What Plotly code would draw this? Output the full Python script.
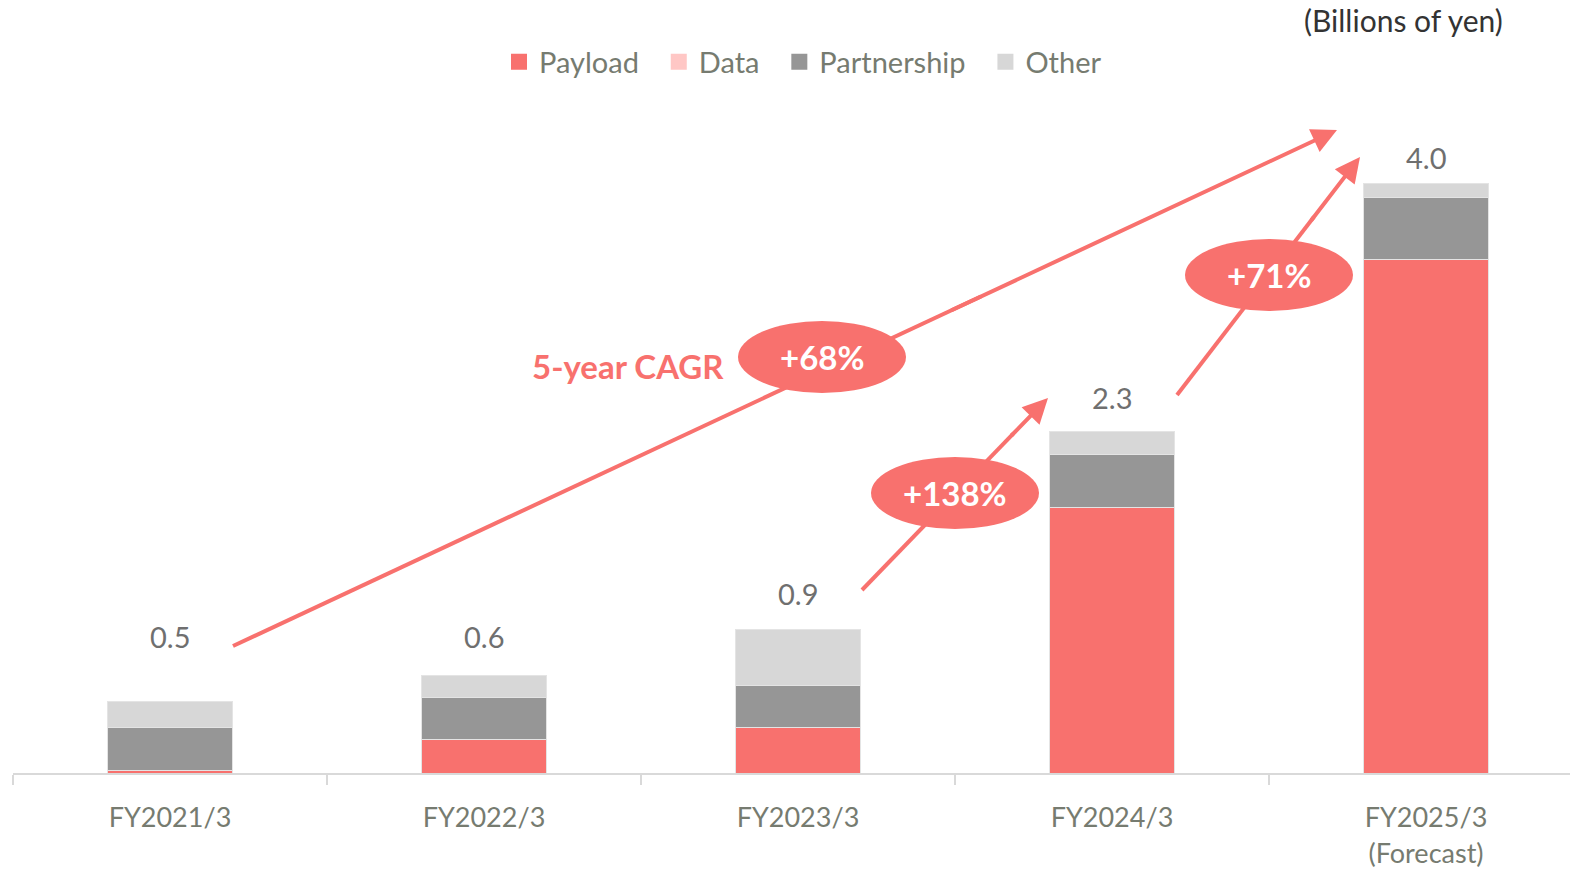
import plotly.graph_objects as go

categories = ["FY2021/3", "FY2022/3", "FY2023/3", "FY2024/3", "FY2025/3"]
tick_text = ["FY2021/3", "FY2022/3", "FY2023/3", "FY2024/3", "FY2025/3<br>(Forecast)"]
series_names = ["Payload", "Data", "Partnership", "Other"]
payload = [0.02, 0.23, 0.31, 1.82, 3.52]
data_rev = [0.0, 0.0, 0.0, 0.0, 0.0]
partnership = [0.29, 0.29, 0.29, 0.36, 0.42]
other = [0.18, 0.15, 0.38, 0.16, 0.10]
total_labels = ["0.5", "0.6", "0.9", "2.3", "4.0"]
growth_labels = ["+68%", "+138%", "+71%"]

# layout helpers (page pixel -> data) for decorations
Y0_PX, PX_PER_UNIT = 773, 146.0
X0_PX, PX_PER_CAT = 170, 314.0
def dx(px):
    return (px - X0_PX) / PX_PER_CAT
def dy(py):
    return (Y0_PX - py) / PX_PER_UNIT

label_pos_px = [636, 636, 593, 397, 157]

RED = "#F8716E"
FONT = "Lato"
GRAY_TXT = "#767B70"

W, H = 1570, 871
PL, PT = 13, 100  # plot area left/top in page px
ml, mt = PL, PT
mb = H - Y0_PX
mr = 0
pw, ph = W - ml - mr, H - mt - mb
def px_paper_x(px):
    return (px - PL) / pw
def px_paper_y(py):
    return (Y0_PX - py) / ph

fig = go.Figure()
colors = [RED, "#FFC7C5", "#969696", "#D7D7D7"]
values = [payload, data_rev, partnership, other]
for name, vals, col in zip(series_names, values, colors):
    fig.add_trace(go.Bar(x=categories, y=vals, name=name, marker_color=col,
                         marker_line=dict(color="#E4E4E4", width=1), showlegend=False))
for name, col in zip(series_names, colors):
    fig.add_trace(go.Scatter(x=[None], y=[None], mode="markers", name=name + "\u00a0\u00a0",
                             marker=dict(symbol="square", size=17, color=col)))

annotations = []
for i, t in enumerate(total_labels):
    annotations.append(dict(x=categories[i], y=dy(label_pos_px[i]), xref="x", yref="y",
                            text=t, showarrow=False, yanchor="middle",
                            font=dict(size=29, color="#6F6F6F", family=FONT)))

shapes = []
arrows = [((233, 646), (950, 311), (1337, 130)),
          ((862, 590), (1010, 437), (1048, 398)),
          ((1177, 395), (1310, 222), (1360, 157))]
for tail, mid, head in arrows:
    ex = mid[0] + (head[0] - mid[0]) * 0.08
    ey = mid[1] + (head[1] - mid[1]) * 0.08
    shapes.append(dict(type="line", xref="x", yref="y", x0=dx(tail[0]), y0=dy(tail[1]),
                       x1=dx(ex), y1=dy(ey), line=dict(color=RED, width=4), layer="above"))
    annotations.append(dict(x=dx(head[0]), y=dy(head[1]), ax=dx(mid[0]), ay=dy(mid[1]),
                            xref="x", yref="y", axref="x", ayref="y", text="", showarrow=True,
                            arrowhead=2, arrowsize=1.25, arrowwidth=4, arrowcolor=RED, standoff=0))

ellipses = [(822, 357), (955, 493), (1269, 275)]
for (cx, cy), lab in zip(ellipses, growth_labels):
    shapes.append(dict(type="circle", xref="x", yref="y", x0=dx(cx - 84), x1=dx(cx + 84),
                       y0=dy(cy + 36), y1=dy(cy - 36), fillcolor=RED, line=dict(width=0), layer="above"))
    annotations.append(dict(x=dx(cx), y=dy(cy), xref="x", yref="y", text="<b>%s</b>" % lab,
                            showarrow=False, font=dict(size=33, color="white", family=FONT)))

annotations.append(dict(x=dx(628), y=dy(366), xref="x", yref="y", text="<b>5-year CAGR</b>",
                        showarrow=False, font=dict(size=33, color=RED, family=FONT)))
annotations.append(dict(x=px_paper_x(1505), y=px_paper_y(20), xref="paper", yref="paper",
                        text="(Billions of yen)", showarrow=False, xanchor="right", yanchor="middle",
                        font=dict(size=30, color="#333333", family=FONT)))

fig.update_layout(
    barmode="stack", bargap=0.6, width=W, height=H,
    margin=dict(l=ml, r=mr, t=mt, b=mb, autoexpand=False),
    plot_bgcolor="white", paper_bgcolor="white",
    font=dict(family=FONT, color=GRAY_TXT),
    legend=dict(orientation="h", x=px_paper_x(810), xanchor="center",
                y=px_paper_y(62), yanchor="middle", itemsizing="trace",
                font=dict(size=29, color=GRAY_TXT, family=FONT), traceorder="normal"),
    xaxis=dict(range=[-0.5, -0.5 + pw / PX_PER_CAT], tickmode="array", tickvals=categories,
               ticktext=tick_text, showline=True, linecolor="#D9D9D9", linewidth=2,
               ticks="outside", tickson="boundaries", ticklen=10, tickcolor="#D9D9D9",
               tickwidth=2, ticklabelstandoff=20,
               tickfont=dict(size=27, color=GRAY_TXT, family=FONT),
               showgrid=False, zeroline=False),
    yaxis=dict(range=[0, ph / PX_PER_UNIT], visible=False, showgrid=False, zeroline=False),
    annotations=annotations, shapes=shapes,
)

fig.write_html("out.html", config={"displayModeBar": False},
               post_script="document.body.style.margin='0';document.body.style.overflow='hidden';")
